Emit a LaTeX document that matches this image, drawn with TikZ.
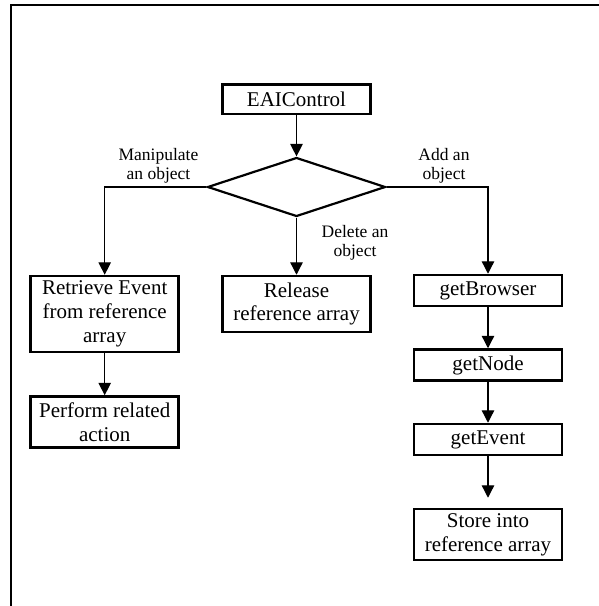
\documentclass[tikz,border=0pt]{standalone}
\usepackage{fontspec}
\setmainfont{Liberation Serif}
\usetikzlibrary{arrows.meta,shapes.geometric}
\begin{document}
\begin{tikzpicture}[x=1pt,y=-1pt,
  stepbox/.style={draw,line width=2.5pt,minimum width=148pt,inner sep=0pt,
    align=center,font=\fontsize{21}{23.7}\selectfont},
  decision/.style={draw,diamond,line width=2.2pt,minimum width=178pt,
    minimum height=59pt,inner sep=0pt,aspect=3},
  flow/.style={line width=1.3pt,-{Triangle[length=12.5pt,width=12.5pt]}},
  branch/.style={align=center,font=\fontsize{17.5}{19}\selectfont,inner sep=0pt}]
  \useasboundingbox (0,0) rectangle (599,606);
  % open frame along the top and left
  \draw[line width=2pt] (599,5) -- (11,5) -- (11,606);

  \node[stepbox,minimum height=29.5pt] (eai) at (296.5,99) {EAIControl};
  \node[decision] (dec) at (296.5,187) {};

  \node[stepbox,minimum height=76pt] (ret) at (104.7,314) {Retrieve Event\\from reference\\array};
  \node[stepbox,minimum height=51pt] (perf) at (104.7,422) {Perform related\\action};
  \node[stepbox,minimum height=56pt] (rel) at (296.5,304) {Release\\reference array};
  \node[stepbox,minimum height=31pt] (gb) at (488,290.5) {getBrowser};
  \node[stepbox,minimum height=31pt] (gn) at (488,365) {getNode};
  \node[stepbox,minimum height=31pt] (ge) at (488,439.5) {getEvent};
  \node[stepbox,minimum height=51pt] (st) at (488,534.5) {Store into\\reference array};

  \node[branch] (lman) at (158.5,165.5) {Manipulate\\an object};
  \node[branch] (ladd) at (444,165.5) {Add an\\object};
  \node[branch] (ldel) at (355,243) {Delete an\\object};

  \draw[flow] (eai) -- (dec.north);
  \draw[flow] (dec.west) -| (ret.north);
  \draw[flow] (dec.east) -| (gb.north);
  \draw[flow] (dec.south) -- (rel.north);
  \draw[flow] (ret) -- (perf);
  \draw[flow] (gb) -- (gn);
  \draw[flow] (gn) -- (ge);
  \draw[flow,shorten >=10pt] (ge) -- (st);
\end{tikzpicture}
\end{document}
